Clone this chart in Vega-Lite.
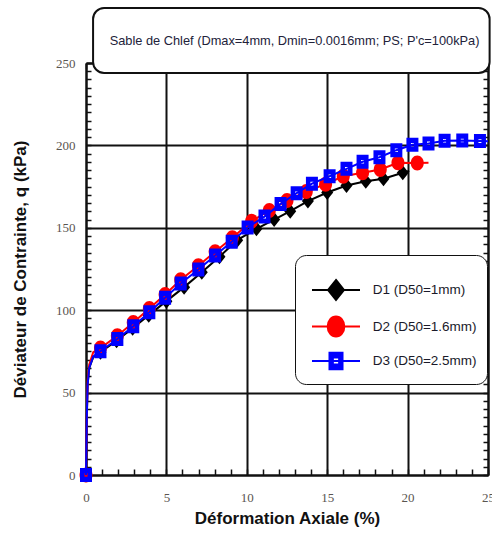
{
  "$schema": "https://vega.github.io/schema/vega-lite/v6.json",
  "width": 402,
  "height": 412,
  "autosize": {"type": "none"},
  "padding": {"left": 86, "top": 63, "right": 4, "bottom": 59},
  "background": "white",
  "data": {
    "values": [
      {"series": "D1 (D50=1mm)", "strain": 0, "q": 0, "kind": "point"},
      {"series": "D1 (D50=1mm)", "strain": 0.05, "q": 35, "kind": "trace"},
      {"series": "D1 (D50=1mm)", "strain": 0.1, "q": 55, "kind": "trace"},
      {"series": "D1 (D50=1mm)", "strain": 0.2, "q": 65, "kind": "trace"},
      {"series": "D1 (D50=1mm)", "strain": 0.45, "q": 71.5, "kind": "trace"},
      {"series": "D1 (D50=1mm)", "strain": 0.9, "q": 74.5, "kind": "point"},
      {"series": "D1 (D50=1mm)", "strain": 1.9, "q": 81.5, "kind": "point"},
      {"series": "D1 (D50=1mm)", "strain": 2.9, "q": 89, "kind": "point"},
      {"series": "D1 (D50=1mm)", "strain": 3.9, "q": 97, "kind": "point"},
      {"series": "D1 (D50=1mm)", "strain": 5.0, "q": 105.5, "kind": "point"},
      {"series": "D1 (D50=1mm)", "strain": 6.1, "q": 114, "kind": "point"},
      {"series": "D1 (D50=1mm)", "strain": 7.2, "q": 123, "kind": "point"},
      {"series": "D1 (D50=1mm)", "strain": 8.3, "q": 132.5, "kind": "point"},
      {"series": "D1 (D50=1mm)", "strain": 9.4, "q": 142.5, "kind": "point"},
      {"series": "D1 (D50=1mm)", "strain": 10.6, "q": 149.4, "kind": "point"},
      {"series": "D1 (D50=1mm)", "strain": 11.7, "q": 155, "kind": "point"},
      {"series": "D1 (D50=1mm)", "strain": 12.7, "q": 160.1, "kind": "point"},
      {"series": "D1 (D50=1mm)", "strain": 13.8, "q": 166.2, "kind": "point"},
      {"series": "D1 (D50=1mm)", "strain": 15.0, "q": 171.4, "kind": "point"},
      {"series": "D1 (D50=1mm)", "strain": 16.2, "q": 175.7, "kind": "point"},
      {"series": "D1 (D50=1mm)", "strain": 17.4, "q": 178.3, "kind": "point"},
      {"series": "D1 (D50=1mm)", "strain": 18.5, "q": 179.8, "kind": "point"},
      {"series": "D1 (D50=1mm)", "strain": 19.7, "q": 183.4, "kind": "point"},
      {"series": "D1 (D50=1mm)", "strain": 20.1, "q": 184.5, "kind": "trace"},

      {"series": "D2 (D50=1.6mm)", "strain": 0, "q": 0, "kind": "point"},
      {"series": "D2 (D50=1.6mm)", "strain": 0.05, "q": 36, "kind": "trace"},
      {"series": "D2 (D50=1.6mm)", "strain": 0.1, "q": 57, "kind": "trace"},
      {"series": "D2 (D50=1.6mm)", "strain": 0.2, "q": 67, "kind": "trace"},
      {"series": "D2 (D50=1.6mm)", "strain": 0.45, "q": 74.5, "kind": "trace"},
      {"series": "D2 (D50=1.6mm)", "strain": 0.9, "q": 77, "kind": "point"},
      {"series": "D2 (D50=1.6mm)", "strain": 1.95, "q": 84.5, "kind": "point"},
      {"series": "D2 (D50=1.6mm)", "strain": 2.94, "q": 92.5, "kind": "point"},
      {"series": "D2 (D50=1.6mm)", "strain": 3.94, "q": 101, "kind": "point"},
      {"series": "D2 (D50=1.6mm)", "strain": 4.92, "q": 109.5, "kind": "point"},
      {"series": "D2 (D50=1.6mm)", "strain": 5.89, "q": 118.5, "kind": "point"},
      {"series": "D2 (D50=1.6mm)", "strain": 6.99, "q": 127, "kind": "point"},
      {"series": "D2 (D50=1.6mm)", "strain": 8.03, "q": 135.5, "kind": "point"},
      {"series": "D2 (D50=1.6mm)", "strain": 9.1, "q": 144, "kind": "point"},
      {"series": "D2 (D50=1.6mm)", "strain": 10.3, "q": 154, "kind": "point"},
      {"series": "D2 (D50=1.6mm)", "strain": 11.4, "q": 160.5, "kind": "point"},
      {"series": "D2 (D50=1.6mm)", "strain": 12.5, "q": 166.5, "kind": "point"},
      {"series": "D2 (D50=1.6mm)", "strain": 13.7, "q": 172, "kind": "point"},
      {"series": "D2 (D50=1.6mm)", "strain": 14.9, "q": 176.5, "kind": "point"},
      {"series": "D2 (D50=1.6mm)", "strain": 16.0, "q": 181.3, "kind": "point"},
      {"series": "D2 (D50=1.6mm)", "strain": 17.2, "q": 183.4, "kind": "point"},
      {"series": "D2 (D50=1.6mm)", "strain": 18.3, "q": 185.4, "kind": "point"},
      {"series": "D2 (D50=1.6mm)", "strain": 19.4, "q": 189.5, "kind": "point"},
      {"series": "D2 (D50=1.6mm)", "strain": 20.6, "q": 189.3, "kind": "point"},
      {"series": "D2 (D50=1.6mm)", "strain": 21.3, "q": 189.5, "kind": "trace"},

      {"series": "D3 (D50=2.5mm)", "strain": 0, "q": 0, "kind": "point"},
      {"series": "D3 (D50=2.5mm)", "strain": 0.05, "q": 35, "kind": "trace"},
      {"series": "D3 (D50=2.5mm)", "strain": 0.1, "q": 55, "kind": "trace"},
      {"series": "D3 (D50=2.5mm)", "strain": 0.2, "q": 65, "kind": "trace"},
      {"series": "D3 (D50=2.5mm)", "strain": 0.45, "q": 72, "kind": "trace"},
      {"series": "D3 (D50=2.5mm)", "strain": 0.9, "q": 75.1, "kind": "point"},
      {"series": "D3 (D50=2.5mm)", "strain": 1.95, "q": 82.5, "kind": "point"},
      {"series": "D3 (D50=2.5mm)", "strain": 2.94, "q": 90.2, "kind": "point"},
      {"series": "D3 (D50=2.5mm)", "strain": 3.94, "q": 98.8, "kind": "point"},
      {"series": "D3 (D50=2.5mm)", "strain": 4.92, "q": 107.5, "kind": "point"},
      {"series": "D3 (D50=2.5mm)", "strain": 5.89, "q": 116.2, "kind": "point"},
      {"series": "D3 (D50=2.5mm)", "strain": 6.99, "q": 124.7, "kind": "point"},
      {"series": "D3 (D50=2.5mm)", "strain": 8.03, "q": 133.2, "kind": "point"},
      {"series": "D3 (D50=2.5mm)", "strain": 9.06, "q": 141.5, "kind": "point"},
      {"series": "D3 (D50=2.5mm)", "strain": 10.05, "q": 150.2, "kind": "point"},
      {"series": "D3 (D50=2.5mm)", "strain": 11.1, "q": 156.8, "kind": "point"},
      {"series": "D3 (D50=2.5mm)", "strain": 12.1, "q": 164.5, "kind": "point"},
      {"series": "D3 (D50=2.5mm)", "strain": 13.1, "q": 171.0, "kind": "point"},
      {"series": "D3 (D50=2.5mm)", "strain": 14.05, "q": 176.8, "kind": "point"},
      {"series": "D3 (D50=2.5mm)", "strain": 15.15, "q": 181.3, "kind": "point"},
      {"series": "D3 (D50=2.5mm)", "strain": 16.2, "q": 185.8, "kind": "point"},
      {"series": "D3 (D50=2.5mm)", "strain": 17.2, "q": 190.1, "kind": "point"},
      {"series": "D3 (D50=2.5mm)", "strain": 18.25, "q": 192.8, "kind": "point"},
      {"series": "D3 (D50=2.5mm)", "strain": 19.3, "q": 197.1, "kind": "point"},
      {"series": "D3 (D50=2.5mm)", "strain": 20.3, "q": 200.4, "kind": "point"},
      {"series": "D3 (D50=2.5mm)", "strain": 21.3, "q": 201.2, "kind": "point"},
      {"series": "D3 (D50=2.5mm)", "strain": 22.3, "q": 202.8, "kind": "point"},
      {"series": "D3 (D50=2.5mm)", "strain": 23.4, "q": 203.0, "kind": "point"},
      {"series": "D3 (D50=2.5mm)", "strain": 24.5, "q": 202.6, "kind": "point"},
      {"series": "D3 (D50=2.5mm)", "strain": 25, "q": 202.5, "kind": "trace"}
    ]
  },
  "layer": [
    {
      "transform": [{"filter": "datum.series == 'D1 (D50=1mm)'"}],
      "mark": {"type": "line", "color": "#000000", "strokeWidth": 2},
      "encoding": {
        "x": {
          "field": "strain", "type": "quantitative",
          "scale": {"domain": [0, 25], "nice": false},
          "axis": {
            "orient": "bottom", "values": [0, 5, 10, 15, 20, 25],
            "grid": true, "gridColor": "#111111", "gridWidth": 2, "gridOpacity": 1,
            "domain": true, "domainColor": "#111111", "domainWidth": 2,
            "ticks": false, "labelPadding": 16, "labelFlush": false, "labelOverlap": false,
            "labelFont": "Liberation Serif", "labelFontSize": 13, "labelColor": "#5a5550",
            "title": "Déformation Axiale (%)", "titleFont": "Liberation Sans",
            "titleFontSize": 17, "titleFontWeight": "bold", "titleColor": "#111111",
            "titlePadding": 6, "zindex": 0
          }
        },
        "y": {
          "field": "q", "type": "quantitative",
          "scale": {"domain": [0, 250], "nice": false},
          "axis": {
            "orient": "left", "values": [0, 50, 100, 150, 200, 250],
            "grid": true, "gridColor": "#111111", "gridWidth": 2, "gridOpacity": 1,
            "domain": true, "domainColor": "#111111", "domainWidth": 2,
            "ticks": false, "labelPadding": 11, "labelFlush": false, "labelOverlap": false,
            "labelFont": "Liberation Serif", "labelFontSize": 13, "labelColor": "#5a5550",
            "title": "Déviateur de Contrainte, q (kPa)", "titleFont": "Liberation Sans",
            "titleFontSize": 17, "titleFontWeight": "bold", "titleColor": "#111111",
            "titlePadding": 26, "zindex": 0
          }
        }
      }
    },
    {
      "transform": [{"filter": "datum.series == 'D1 (D50=1mm)' && datum.kind == 'point'"}],
      "mark": {"type": "point", "filled": true, "opacity": 1, "size": 64, "strokeWidth": 0, "color": "#000000",
               "shape": "M0,-1.875L1.5,0L0,1.875L-1.5,0Z"},
      "encoding": {
        "x": {
          "field": "strain", "type": "quantitative",
          "scale": {"domain": [0, 25], "nice": false},
          "axis": {
            "orient": "bottom", "tickCount": 25, "grid": false, "domain": false,
            "labels": false, "ticks": true, "tickSize": -6, "tickWidth": 1.5,
            "tickColor": "#111111", "title": null, "zindex": 0
          }
        },
        "y": {
          "field": "q", "type": "quantitative",
          "scale": {"domain": [0, 250], "nice": false},
          "axis": {
            "orient": "left", "tickCount": 50, "grid": false, "domain": false,
            "labels": false, "ticks": true, "tickSize": -5, "tickWidth": 1.5,
            "tickColor": "#111111", "title": null, "zindex": 0
          }
        }
      }
    },
    {
      "transform": [{"filter": "datum.series == 'D2 (D50=1.6mm)'"}],
      "mark": {"type": "line", "color": "#ff0000", "strokeWidth": 2},
      "encoding": {
        "x": {
          "field": "strain", "type": "quantitative",
          "scale": {"domain": [0, 25], "nice": false},
          "axis": {
            "orient": "top", "tickCount": 25, "grid": false,
            "domain": true, "domainColor": "#111111", "domainWidth": 2,
            "labels": false, "ticks": true, "tickSize": -6, "tickWidth": 1.5,
            "tickColor": "#111111", "title": null, "zindex": 0
          }
        },
        "y": {
          "field": "q", "type": "quantitative",
          "scale": {"domain": [0, 250], "nice": false},
          "axis": {
            "orient": "right", "tickCount": 50, "grid": false,
            "domain": true, "domainColor": "#111111", "domainWidth": 2,
            "labels": false, "ticks": true, "tickSize": -5, "tickWidth": 1.5,
            "tickColor": "#111111", "title": null, "zindex": 0
          }
        }
      }
    },
    {
      "transform": [{"filter": "datum.series == 'D2 (D50=1.6mm)' && datum.kind == 'point'"}],
      "mark": {"type": "point", "filled": true, "opacity": 1, "size": 64, "strokeWidth": 0, "color": "#ff0000",
               "shape": "M-1.625,0A1.625,1.875,0,1,1,1.625,0A1.625,1.875,0,1,1,-1.625,0Z"},
      "encoding": {
        "x": {"field": "strain", "type": "quantitative", "axis": null},
        "y": {"field": "q", "type": "quantitative", "axis": null}
      }
    },
    {
      "transform": [{"filter": "datum.series == 'D3 (D50=2.5mm)'"}],
      "mark": {"type": "line", "color": "#0000ff", "strokeWidth": 2},
      "encoding": {
        "x": {"field": "strain", "type": "quantitative", "axis": null},
        "y": {"field": "q", "type": "quantitative", "axis": null}
      }
    },
    {
      "transform": [{"filter": "datum.series == 'D3 (D50=2.5mm)' && datum.kind == 'point'"}],
      "mark": {"type": "point", "filled": true, "opacity": 1, "size": 64, "strokeWidth": 0, "color": "#0000ff",
               "shape": "M-1.5,-1.75H1.5V1.75H-1.5ZM-0.375,-0.45V0.45H0.375V-0.45Z"},
      "encoding": {
        "x": {"field": "strain", "type": "quantitative", "axis": null},
        "y": {"field": "q", "type": "quantitative", "axis": null}
      }
    },
    {
      "transform": [{"filter": "false"}],
      "mark": {"type": "point", "filled": true, "opacity": 1},
      "encoding": {
        "fill": {
          "field": "series", "type": "nominal",
          "scale": {"domain": ["D1 (D50=1mm)", "D2 (D50=1.6mm)", "D3 (D50=2.5mm)"], "range": ["#000000", "#ff0000", "#0000ff"]},
          "legend": {
            "orient": "none", "legendX": 209, "legendY": 192,
            "title": " ", "titleFontSize": 10, "titlePadding": 7,
            "padding": 10, "fillColor": "white", "strokeColor": "#111111", "cornerRadius": 11,
            "symbolSize": 196, "symbolStrokeWidth": 2, "symbolOffset": 23, "rowPadding": 6.5,
            "labelOffset": 28.7, "labelFont": "Liberation Sans", "labelFontSize": 13.5, "labelColor": "#1a1a2a", "labelLimit": 200,
            "encode": {"legend": {"update": {"strokeWidth": {"value": 2}}}}
          }
        },
        "stroke": {
          "field": "series", "type": "nominal",
          "scale": {"domain": ["D1 (D50=1mm)", "D2 (D50=1.6mm)", "D3 (D50=2.5mm)"], "range": ["#000000", "#ff0000", "#0000ff"]},
          "legend": {
            "orient": "none", "legendX": 209, "legendY": 192,
            "title": " ", "titleFontSize": 10, "titlePadding": 7,
            "padding": 10, "fillColor": "white", "strokeColor": "#111111", "cornerRadius": 11,
            "symbolSize": 196, "symbolStrokeWidth": 2, "symbolOffset": 23, "rowPadding": 6.5,
            "labelOffset": 28.7, "labelFont": "Liberation Sans", "labelFontSize": 13.5, "labelColor": "#1a1a2a", "labelLimit": 200,
            "encode": {"legend": {"update": {"strokeWidth": {"value": 2}}}}
          }
        },
        "shape": {
          "field": "series", "type": "nominal",
          "scale": {
            "domain": ["D1 (D50=1mm)", "D2 (D50=1.6mm)", "D3 (D50=2.5mm)"],
            "range": [
              "M-3.43,0H3.43M0,-1.43L1.14,0L0,1.43L-1.14,0Z",
              "M-3.43,0H3.43M-1.19,0A1.19,1.43,0,1,1,1.19,0A1.19,1.43,0,1,1,-1.19,0Z",
              "M-3.43,0H3.43M-0.93,-1.19H0.93V1.19H-0.93ZM-0.45,-0.5V0.5H0.45V-0.5Z"
            ]
          },
          "legend": {
            "orient": "none", "legendX": 209, "legendY": 192,
            "title": " ", "titleFontSize": 10, "titlePadding": 7,
            "padding": 10, "fillColor": "white", "strokeColor": "#111111", "cornerRadius": 11,
            "symbolSize": 196, "symbolStrokeWidth": 2, "symbolOffset": 23, "rowPadding": 6.5,
            "labelOffset": 28.7, "labelFont": "Liberation Sans", "labelFontSize": 13.5, "labelColor": "#1a1a2a", "labelLimit": 200,
            "encode": {"legend": {"update": {"strokeWidth": {"value": 2}}}}
          }
        }
      }
    },
    {
      "data": {"values": [{"caption": "Sable de Chlef (Dmax=4mm, Dmin=0.0016mm; PS; P'c=100kPa)"}]},
      "layer": [
        {
          "mark": {"type": "rect", "fill": "white", "stroke": "#111111", "strokeWidth": 2, "cornerRadius": 11, "clip": false},
          "encoding": {
            "x": {"datum": 0.44, "type": "quantitative", "axis": null},
            "x2": {"datum": 25.1},
            "y": {"datum": 283.4, "type": "quantitative", "axis": null},
            "y2": {"datum": 243.9}
          }
        },
        {
          "mark": {"type": "text", "font": "Liberation Sans", "fontSize": 12.8, "color": "#22223a",
                   "align": "center", "baseline": "alphabetic", "clip": false},
          "encoding": {
            "x": {"datum": 12.97, "type": "quantitative", "axis": null},
            "y": {"datum": 260.7, "type": "quantitative", "axis": null},
            "text": {"field": "caption", "type": "nominal"}
          }
        }
      ]
    }
  ],
  "resolve": {"axis": {"x": "independent", "y": "independent"}},
  "config": {"view": {"stroke": null}}
}
